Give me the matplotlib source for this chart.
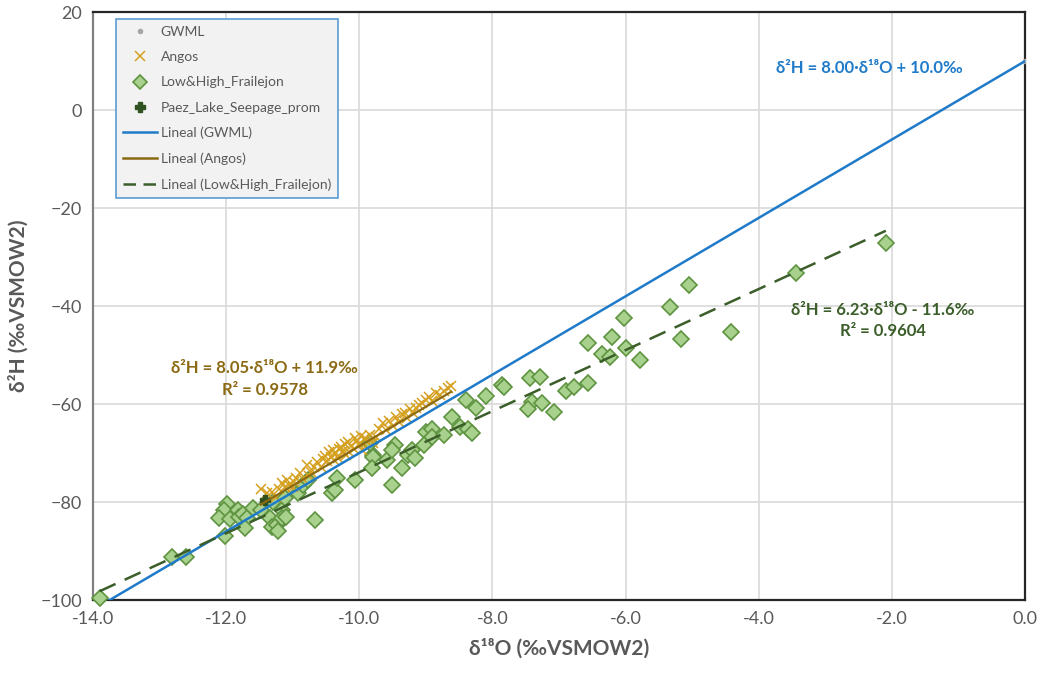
import numpy as np
import matplotlib
matplotlib.use("Agg")
import matplotlib.pyplot as plt
from matplotlib.lines import Line2D

plt.rcParams['font.family'] = ['Lato', 'DejaVu Sans']

# GWML reference points
gwml_x = [-14.0, 0.0]
gwml_y = [-102.0, 10.0]

# Angos samples
angos_x = [-11.48, -11.39, -11.31, -11.25, -11.20, -11.16, -11.12, -11.09, -11.05, -11.00,
           -10.98, -10.95, -10.89, -10.85, -10.79, -10.75, -10.72, -10.68, -10.63, -10.58,
           -10.55, -10.52, -10.48, -10.46, -10.43, -10.40, -10.38, -10.36, -10.32, -10.30,
           -10.28, -10.24, -10.22, -10.20, -10.17, -10.15, -10.12, -10.08, -10.06, -10.04,
           -10.00, -9.98, -9.96, -9.92, -9.88, -9.84, -9.80, -9.75, -9.70, -9.65,
           -9.60, -9.55, -9.50, -9.45, -9.40, -9.36, -9.32, -9.28, -9.24, -9.20,
           -9.15, -9.10, -9.06, -9.00, -8.95, -8.90, -8.84, -8.78, -8.72, -8.67, -8.62]
angos_y = [-77.3, -78.2, -78.0, -79.0, -77.4, -76.1, -77.0, -75.5, -76.5, -77.0,
           -75.8, -75.1, -74.1, -75.3, -72.4, -74.6, -73.8, -72.8, -71.8, -72.9,
           -71.2, -70.6, -71.6, -69.8, -70.8, -69.4, -71.4, -70.2, -71.0, -69.2,
           -68.8, -69.6, -68.2, -70.4, -67.8, -69.8, -68.6, -69.2, -67.0, -67.6,
           -68.4, -66.6, -69.4, -67.0, -67.8, -66.3, -68.0, -66.8, -65.0, -63.9,
           -65.2, -63.4, -64.4, -62.6, -63.6, -62.0, -61.8, -62.8, -61.0, -61.9,
           -60.8, -60.2, -59.8, -59.2, -58.6, -59.4, -57.8, -58.2, -57.4, -56.7, -56.4]

# Low & High Frailejon samples
frai_x = [-13.90, -12.81, -12.60, -11.99, -12.03, -12.11, -11.94, -12.02, -11.82, -11.81,
          -11.75, -11.69, -11.72, -11.60, -11.47, -11.34, -11.31, -11.24, -11.16, -11.16,
          -11.10, -11.22, -11.30, -11.12, -10.92, -10.85, -10.77, -10.67, -10.41, -10.37,
          -10.34, -10.07, -9.80, -9.84, -9.80, -9.59, -9.81, -9.47, -9.51, -9.51,
          -9.36, -9.27, -9.21, -9.17, -8.99, -8.91, -8.90, -9.02, -8.72, -8.61,
          -8.49, -8.37, -8.30, -8.39, -8.24, -8.09, -7.85, -7.82, -7.44, -7.29,
          -7.40, -7.26, -7.47, -7.08, -6.89, -6.78, -6.56, -6.56, -6.36, -6.24,
          -6.20, -6.03, -5.99, -5.78, -5.33, -5.16, -5.04, -4.41, -3.44, -2.09]
frai_y = [-99.6, -91.2, -91.2, -80.4, -81.6, -83.3, -83.5, -86.9, -81.6, -83.1,
          -82.4, -83.3, -85.3, -81.2, -81.6, -83.3, -85.1, -84.7, -81.6, -83.3,
          -83.1, -85.8, -80.0, -79.2, -78.2, -76.5, -75.5, -83.7, -78.2, -77.6,
          -75.1, -75.5, -70.4, -68.0, -70.8, -71.4, -73.1, -68.4, -69.4, -76.5,
          -73.1, -70.4, -69.4, -71.0, -65.7, -65.1, -66.7, -68.4, -66.3, -62.7,
          -64.7, -65.1, -66.0, -59.2, -60.8, -58.4, -56.1, -56.5, -54.7, -54.5,
          -59.6, -59.8, -61.0, -61.6, -57.3, -56.5, -55.7, -47.6, -49.8, -50.4,
          -46.3, -42.4, -48.6, -51.0, -40.2, -46.7, -35.7, -45.3, -33.3, -27.1]

# Paez lake seepage average
paez_x = [-11.42]
paez_y = [-79.6]

# trendline coefficients: slope, intercept, R²
gwml_fit = (8.00, 10.0)
angos_fit = (8.05, 11.9, 0.9578)
frai_fit = (6.23, -11.6, 0.9604)

c_gwml = '#1F7BC9'
c_angos = '#D4A01E'
c_angos_line = '#8C6A14'
c_frai_face = '#A9D18E'
c_frai_edge = '#5E9440'
c_frai_line = '#3B5E2A'
c_paez = '#2F5220'

fig = plt.figure(figsize=(10.41, 6.75), dpi=100)
ax = fig.add_axes([0.0893, 0.111, 0.8953, 0.871])

ax.plot(gwml_x, gwml_y, 'o', ms=3, color='#A6A6A6', zorder=3)
ax.plot(angos_x, angos_y, 'x', ms=7, mew=1.1, color=c_angos, zorder=4)
ax.plot(frai_x, frai_y, 'D', ms=8, mew=1.2, mfc=c_frai_face, mec=c_frai_edge, zorder=3,
        clip_on=False)
ax.plot(paez_x, paez_y, 'P', ms=7, color=c_paez, zorder=5)

# trendlines
xg = np.array([min(gwml_x), max(gwml_x)])
ax.plot(xg, gwml_fit[0] * xg + gwml_fit[1], color=c_gwml, lw=1.8, zorder=6)
xa = np.array([min(angos_x), max(angos_x)])
ax.plot(xa, angos_fit[0] * xa + angos_fit[1], color=c_angos_line, lw=1.6, zorder=6)
xf = np.array([min(frai_x), max(frai_x)])
ax.plot(xf, frai_fit[0] * xf + frai_fit[1], color=c_frai_line, lw=1.8,
        dashes=(7, 4), zorder=6)

ax.set_xlim(-14, 0)
ax.set_ylim(-100, 20)
ax.set_xticks(np.arange(-14, 0.1, 2))
ax.set_yticks(np.arange(-100, 21, 20))
ax.xaxis.set_major_formatter(matplotlib.ticker.FormatStrFormatter('%.1f'))
ax.grid(True, color='#D9D9D9', lw=1.2)
ax.set_axisbelow(True)
ax.tick_params(length=0, labelsize=13, colors='#595959', pad=8)
for s in ['top', 'right', 'bottom']:
    ax.spines[s].set_color('#262626')
    ax.spines[s].set_linewidth(1.6)
ax.spines['left'].set_color('#808080')
ax.spines['left'].set_linewidth(1.6)

ax.set_xlabel('δ¹⁸O (‰VSMOW2)', fontsize=15, fontweight='bold', color='#595959', labelpad=8)
ax.set_ylabel('δ²H (‰VSMOW2)', fontsize=15, fontweight='bold', color='#595959', labelpad=8)

# equation labels
ax.text(-2.34, 8.6, 'δ²H = %.2f·δ¹⁸O + %.1f‰' % gwml_fit, color=c_gwml,
        fontsize=12, fontweight='bold', ha='center', va='center')
ax.text(-11.42, -52.7, 'δ²H = %.2f·δ¹⁸O + %.1f‰' % angos_fit[:2], color=c_angos_line,
        fontsize=12, fontweight='bold', ha='center', va='center')
ax.text(-11.42, -57.2, 'R² = %.4f' % angos_fit[2], color=c_angos_line,
        fontsize=12, fontweight='bold', ha='center', va='center')
ax.text(-2.13, -40.8, 'δ²H = %.2f·δ¹⁸O - %.1f‰' % (frai_fit[0], -frai_fit[1]), color=c_frai_line,
        fontsize=12, fontweight='bold', ha='center', va='center')
ax.text(-2.13, -45.0, 'R² = %.4f' % frai_fit[2], color=c_frai_line,
        fontsize=12, fontweight='bold', ha='center', va='center')

handles = [
    Line2D([], [], ls='none', marker='o', ms=3, color='#A6A6A6'),
    Line2D([], [], ls='none', marker='x', ms=7, mew=1.1, color=c_angos),
    Line2D([], [], ls='none', marker='D', ms=7, mew=1.2, mfc=c_frai_face, mec=c_frai_edge),
    Line2D([], [], ls='none', marker='P', ms=7, color=c_paez),
    Line2D([], [], color=c_gwml, lw=1.8),
    Line2D([], [], color=c_angos_line, lw=1.8),
    Line2D([], [], color=c_frai_line, lw=1.8, dashes=(5, 3)),
]
labels = ['GWML', 'Angos', 'Low&High_Frailejon', 'Paez_Lake_Seepage_prom',
          'Lineal (GWML)', 'Lineal (Angos)', 'Lineal (Low&High_Frailejon)']
leg = ax.legend(handles, labels, loc='upper left', bbox_to_anchor=(0.022, 0.993),
                fontsize=10, labelcolor='#595959', frameon=True, fancybox=False,
                handlelength=2.4, handletextpad=0.3, labelspacing=0.95, borderpad=0.5,
                borderaxespad=0.2)
leg.get_frame().set_facecolor('#F2F2F2')
leg.get_frame().set_edgecolor('#5B9BD5')
leg.get_frame().set_linewidth(1.2)
leg.get_frame().set_alpha(1)
leg.set_zorder(10)

fig.savefig('out.png', dpi=100)
